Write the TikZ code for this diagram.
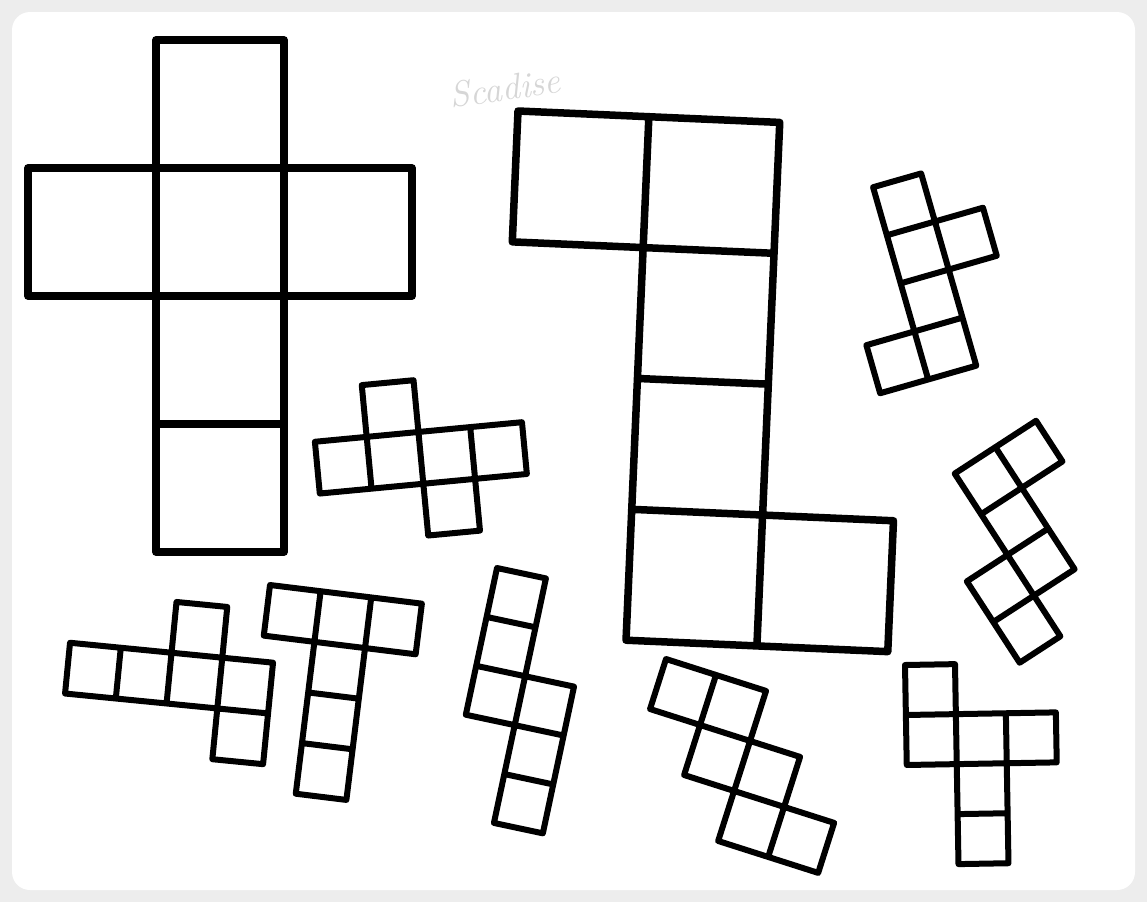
\documentclass[tikz,border=0pt]{standalone}
\usepackage{tikz}

\begin{document}
\begin{tikzpicture}[
        x=1pt,
        y=-1pt,
        paper/.style={fill=white,rounded corners=18pt},
        net edge/.style={line width=7.5pt,line join=round,line cap=round},
        small net edge/.style={line width=6pt,line join=round,line cap=round},
        faint writing/.style={text=black!16,font=\itshape\fontsize{36}{36}\selectfont}
    ]
        % The sheet, with its grey rim.
        \useasboundingbox (0,0) rectangle (1147,902);
        \fill[black!7] (0,0) rectangle (1147,902);
        \fill[paper] (12,12) rectangle (1135,890);

        % The pencilled name at the top.
        \node[faint writing,rotate=8] (signature) at (505,88) {Scadise};

        % The large cross: a column of four with one square on each side.
        \begin{scope}[shift={(28,40)},x=128pt,y=-128pt]
            \draw[net edge]
                (1,0) rectangle (2,1)
                (0,1) rectangle (1,2)
                (1,1) rectangle (2,2)
                (2,1) rectangle (3,2)
                (1,2) rectangle (2,3)
                (1,3) rectangle (2,4);
        \end{scope}

        % The large hook: a column of four with squares at opposite ends.
        \begin{scope}[shift={(518,111)},rotate=-2.5,x=131pt,y=-131pt]
            \draw[net edge]
                (0,0) rectangle (1,1)
                (1,0) rectangle (2,1)
                (1,1) rectangle (2,2)
                (1,2) rectangle (2,3)
                (1,3) rectangle (2,4)
                (2,3) rectangle (3,4);
        \end{scope}

        % The small cross lying on its side.
        \begin{scope}[shift={(310,390)},rotate=5.4,x=52pt,y=-52pt]
            \draw[small net edge]
                (1,0) rectangle (2,1)
                (0,1) rectangle (1,2)
                (1,1) rectangle (2,2)
                (2,1) rectangle (3,2)
                (3,1) rectangle (4,2)
                (2,2) rectangle (3,3);
        \end{scope}

        % Top right: a column of four, tilted.
        \begin{scope}[shift={(825,201)},rotate=16,x=50pt,y=-50pt]
            \draw[small net edge]
                (1,0) rectangle (2,1)
                (1,1) rectangle (2,2)
                (2,1) rectangle (3,2)
                (1,2) rectangle (2,3)
                (0,3) rectangle (1,4)
                (1,3) rectangle (2,4);
        \end{scope}

        % Right side: the steep one.
        \begin{scope}[shift={(914,500)},rotate=33,x=48.5pt,y=-48.5pt]
            \draw[small net edge]
                (1,0) rectangle (2,1)
                (2,0) rectangle (3,1)
                (1,1) rectangle (2,2)
                (0,2) rectangle (1,3)
                (1,2) rectangle (2,3)
                (0,3) rectangle (1,4);
        \end{scope}

        % Bottom left: a row of four.
        \begin{scope}[shift={(75,592)},rotate=-5.6,x=51pt,y=-51pt]
            \draw[small net edge]
                (2,0) rectangle (3,1)
                (0,1) rectangle (1,2)
                (1,1) rectangle (2,2)
                (2,1) rectangle (3,2)
                (3,1) rectangle (4,2)
                (3,2) rectangle (4,3);
        \end{scope}

        % The long T.
        \begin{scope}[shift={(270,585)},rotate=-7,x=51pt,y=-51pt]
            \draw[small net edge]
                (0,0) rectangle (1,1)
                (1,0) rectangle (2,1)
                (2,0) rectangle (3,1)
                (1,1) rectangle (2,2)
                (1,2) rectangle (2,3)
                (1,3) rectangle (2,4);
        \end{scope}

        % Two columns of three, offset.
        \begin{scope}[shift={(497,568)},rotate=-12,x=50pt,y=-50pt]
            \draw[small net edge]
                (0,0) rectangle (1,1)
                (0,1) rectangle (1,2)
                (0,2) rectangle (1,3)
                (1,2) rectangle (2,3)
                (1,3) rectangle (2,4)
                (1,4) rectangle (2,5);
        \end{scope}

        % The staircase.
        \begin{scope}[shift={(666,659)},rotate=-17.7,x=52.5pt,y=-52.5pt]
            \draw[small net edge]
                (0,0) rectangle (1,1)
                (1,0) rectangle (2,1)
                (1,1) rectangle (2,2)
                (2,1) rectangle (3,2)
                (2,2) rectangle (3,3)
                (3,2) rectangle (4,3);
        \end{scope}

        % Bottom right: a row of three with a tail.
        \begin{scope}[shift={(905,665)},rotate=1,x=50pt,y=-50pt]
            \draw[small net edge]
                (0,0) rectangle (1,1)
                (0,1) rectangle (1,2)
                (1,1) rectangle (2,2)
                (2,1) rectangle (3,2)
                (1,2) rectangle (2,3)
                (1,3) rectangle (2,4);
        \end{scope}
    \end{tikzpicture}
\end{document}
